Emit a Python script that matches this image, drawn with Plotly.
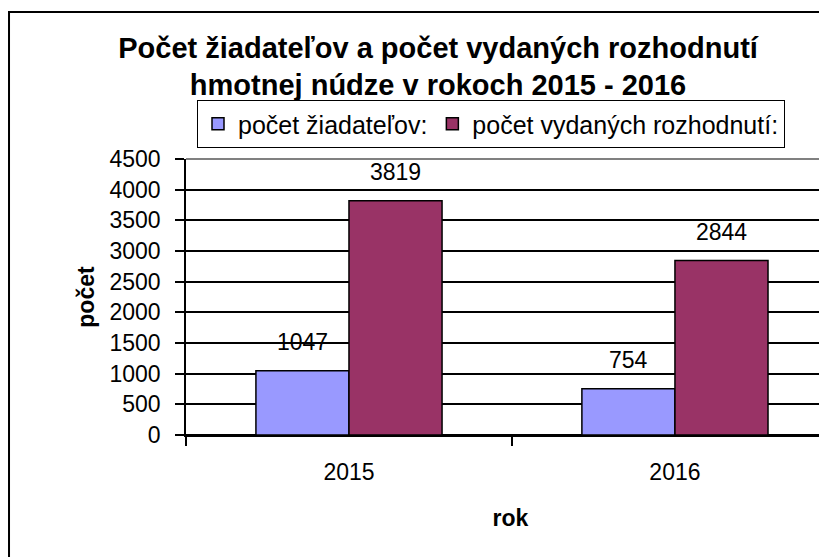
import plotly.graph_objects as go

years = ["2015", "2016"]
ziadatelov = [1047, 754]
rozhodnuti = [3819, 2844]
series_names = ["počet žiadateľov:", "počet vydaných rozhodnutí:"]
colors = ["#9999FF", "#993366"]
y_ticks = [0, 500, 1000, 1500, 2000, 2500, 3000, 3500, 4000, 4500]

FONT = "Liberation Sans, Arial, sans-serif"

fig = go.Figure()
for name, vals, col in zip(series_names, [ziadatelov, rozhodnuti], colors):
    fig.add_trace(go.Bar(
        x=years, y=vals, name=name,
        marker=dict(color=col, line=dict(color="black", width=1.5)),
    ))

# data labels above bars (x given as category index)
for vals, shift in [(ziadatelov, -46.5), (rozhodnuti, 46.5)]:
    for idx, v in enumerate(vals):
        fig.add_annotation(x=idx, y=v, xref="x", yref="y", text=str(v),
                           showarrow=False, xshift=shift, yshift=29,
                           font=dict(family=FONT, size=23, color="black"))

# outer chart border
fig.add_shape(type="rect", xref="paper", yref="paper",
              x0=-0.2727, x1=1.2, y0=-0.7, y1=1.5326,
              line=dict(color="black", width=2), layer="below")
# plot area top border (gray)
fig.add_shape(type="line", xref="paper", yref="paper",
              x0=0, x1=1, y0=1, y1=1,
              line=dict(color="#808080", width=2), layer="above")

fig.update_layout(
    width=827, height=557,
    margin=dict(l=178, r=0, t=151, b=130, autoexpand=False),
    paper_bgcolor="white", plot_bgcolor="white",
    font=dict(family=FONT, size=23, color="black"),
    barmode="group", bargap=0.429, bargroupgap=0,
    showlegend=True,
    title=dict(
        text="<b>Počet žiadateľov a počet vydaných rozhodnutí<br>hmotnej núdze v rokoch 2015 - 2016</b>",
        font=dict(family=FONT, size=29, color="black"),
        x=0.52, xref="container", xanchor="center",
        y=0.911, yref="container", yanchor="top",
    ),
    legend=dict(
        orientation="h", xref="container", yref="container",
        x=189 / 827, y=1 - 92 / 557, xanchor="left", yanchor="top",
        bordercolor="black", borderwidth=1, bgcolor="white",
        font=dict(family=FONT, size=25, color="black"),
        itemwidth=30, traceorder="normal",
    ),
    xaxis=dict(
        type="category", range=[-0.5, 1.491], automargin=False,
        showgrid=False, showline=True, linecolor="black", linewidth=1.5,
        ticks="outside", tickson="boundaries", ticklen=9, tickcolor="black",
        tickwidth=1.5, ticklabelstandoff=16,
        tickfont=dict(family=FONT, size=23),
        title=dict(text="<b>rok</b>", font=dict(family=FONT, size=23), standoff=26),
    ),
    yaxis=dict(
        range=[0, 4500], tickvals=y_ticks, automargin=False,
        showgrid=True, gridcolor="black", gridwidth=1.5,
        zeroline=True, zerolinecolor="black", zerolinewidth=1.5,
        showline=True, linecolor="black", linewidth=1.5,
        ticks="outside", ticklen=9, tickcolor="black", tickwidth=1.5,
        ticklabelstandoff=10,
        tickfont=dict(family=FONT, size=23),
        title=dict(text="<b>počet</b>", font=dict(family=FONT, size=23), standoff=8),
    ),
)

fig.write_html("out.html")
